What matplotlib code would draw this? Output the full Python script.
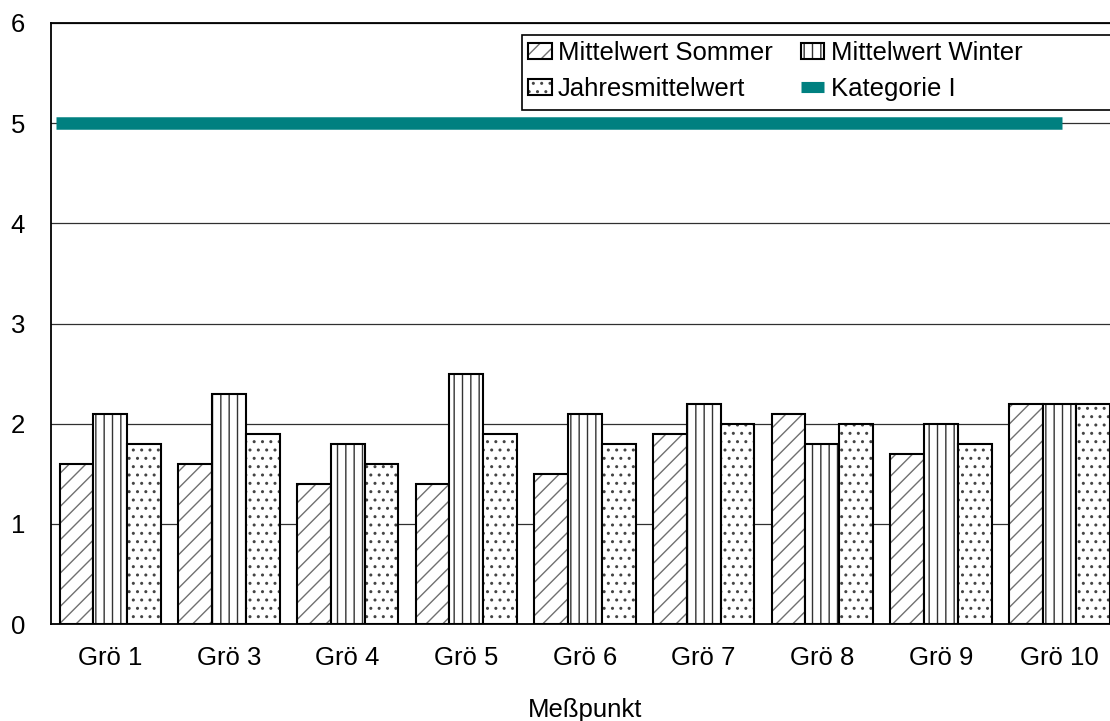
import numpy as np
import matplotlib
matplotlib.use('Agg')
from matplotlib import pyplot as plt
from matplotlib.patches import Rectangle

plt.rcParams['font.family'] = ['Liberation Sans', 'DejaVu Sans']
plt.rcParams['hatch.linewidth'] = 1.0

# mean values per measuring point
punkte = ['Grö 1', 'Grö 3', 'Grö 4', 'Grö 5', 'Grö 6', 'Grö 7', 'Grö 8', 'Grö 9', 'Grö 10']
sommer = [1.6, 1.6, 1.4, 1.4, 1.5, 1.9, 2.1, 1.7, 2.2]
winter = [2.1, 2.3, 1.8, 2.5, 2.1, 2.2, 1.8, 2.0, 2.2]
jahres = [1.8, 1.9, 1.6, 1.9, 1.8, 2.0, 2.0, 1.8, 2.2]
kategorie_1 = 5.0

FS = 18.5

fig = plt.figure(figsize=(11.1, 7.21), dpi=100)
# plot area runs past the right edge of the canvas
ax = fig.add_axes([0.046, 0.1345, 0.962, 0.8336])

x = np.arange(len(punkte))
w = 0.285

b1 = ax.bar(x - w, sommer, w, color='white', edgecolor='black', hatch='//', linewidth=1.5, zorder=2)
b2 = ax.bar(x, winter, w, color='white', edgecolor='black', hatch='||', linewidth=1.5, zorder=2)
b3 = ax.bar(x + w, jahres, w, color='white', edgecolor='black', hatch='..', linewidth=1.5, zorder=2)
for bars, col in ((b1, '#707070'), (b2, '#333333'), (b3, '#444444')):
    for p in bars:
        p._hatch_color = matplotlib.colors.to_rgba(col)

kat, = ax.plot([-0.46, 8.02], [kategorie_1, kategorie_1], color='#008080', linewidth=9,
               solid_capstyle='butt', zorder=3)

ax.set_xlim(-0.5, 8.5)
ax.set_ylim(0, 6)
ax.set_yticks(range(7))
ax.set_xticks(x)
ax.set_xticklabels(punkte)
ax.tick_params(axis='both', length=0, labelsize=FS, colors='black')
ax.tick_params(axis='x', pad=16)
ax.tick_params(axis='y', pad=24)
for lbl in ax.get_yticklabels():
    lbl.set_horizontalalignment('center')
ax.yaxis.grid(True, color='#303030', linewidth=0.9, zorder=0)
ax.set_axisbelow(True)
for s in ax.spines.values():
    s.set_linewidth(1.3)
ax.set_xlabel('Meßpunkt', fontsize=FS, labelpad=20)

leg = fig.legend([b1, b3, b2, kat],
                 ['Mittelwert Sommer', 'Jahresmittelwert', 'Mittelwert Winter', 'Kategorie I'],
                 ncol=2, loc='upper left', bbox_to_anchor=(0.4703, 0.9515),
                 fontsize=FS, frameon=False,
                 handlelength=0.9, handleheight=0.6, handletextpad=0.25, columnspacing=1.1,
                 borderpad=0.25, labelspacing=0.45, borderaxespad=0)
leg.legend_handles[3].set_linewidth(8)
# legend box, open towards the right edge
fig.patches.append(Rectangle((0.4703, 0.8474), 0.6, 0.1041, transform=fig.transFigure,
                             facecolor='white', edgecolor='black', linewidth=1.2, zorder=4))
leg.set_zorder(5)

fig.savefig('out.png', dpi=100)
